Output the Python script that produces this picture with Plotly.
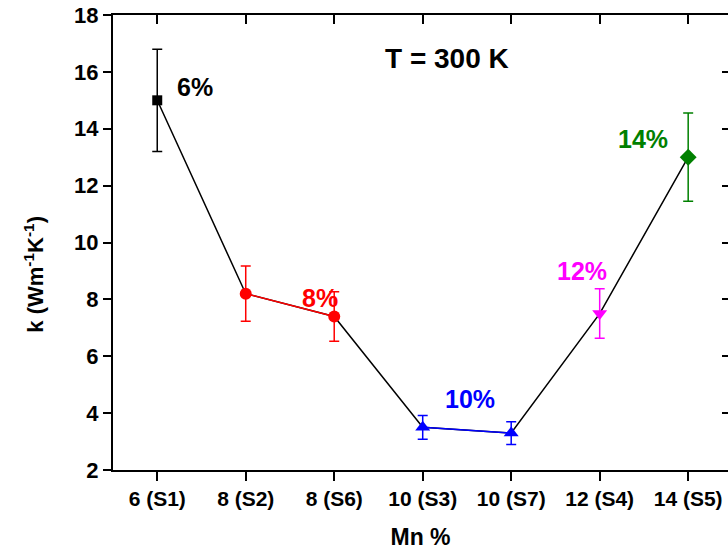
import plotly.graph_objects as go

categories = ["6 (S1)", "8 (S2)", "8 (S6)", "10 (S3)", "10 (S7)", "12 (S4)", "14 (S5)"]
k_values = [15.0, 8.2, 7.4, 3.5, 3.3, 7.5, 13.0]
k_errors = [1.8, 0.97, 0.87, 0.42, 0.40, 0.87, 1.55]

group_idx = [[0], [1, 2], [3, 4], [5], [6]]
group_colors = ["#000000", "#FF0000", "#0000FF", "#FF00FF", "#008000"]
group_symbols = ["square", "circle", "triangle-up", "triangle-down", "diamond"]
group_sizes = [10, 12, 13, 13, 13]
group_labels = ["6%", "8%", "10%", "12%", "14%"]
label_pos = [(0.43, 15.47), (1.84, 8.06), (3.53, 4.48), (4.80, 9.01), (5.49, 13.65)]

y_ticks = [2, 4, 6, 8, 10, 12, 14, 16, 18]

FONT = "Liberation Sans, Arial, sans-serif"

fig = go.Figure()

# black connecting line through all points
fig.add_trace(go.Scatter(x=categories, y=k_values, mode="lines",
                         line=dict(color="black", width=1.5), showlegend=False,
                         hoverinfo="skip"))

for idx, col, sym, sz in zip(group_idx, group_colors, group_symbols, group_sizes):
    xs = [categories[i] for i in idx]
    ys = [k_values[i] for i in idx]
    es = [k_errors[i] for i in idx]
    fig.add_trace(go.Scatter(
        x=xs, y=ys, mode="lines+markers" if len(idx) > 1 else "markers",
        line=dict(color=col, width=1.5),
        marker=dict(symbol=sym, size=sz, color=col, line=dict(width=0)),
        error_y=dict(type="data", array=es, visible=True, color=col,
                     thickness=1.5, width=5),
        showlegend=False))

for lab, col, (lx, ly) in zip(group_labels, group_colors, label_pos):
    fig.add_annotation(x=lx, y=ly, xref="x", yref="y", text="<b>" + lab + "</b>",
                       showarrow=False,
                       font=dict(family=FONT, size=25, color=col))

fig.add_annotation(x=3.27, y=16.48, xref="x", yref="y", text="<b>T = 300 K</b>",
                   showarrow=False,
                   font=dict(family=FONT, size=28, color="black"))

# y-axis title
fig.add_annotation(x=-0.128, y=0.43, xref="paper", yref="paper",
                   text="k (Wm<sup>-1</sup>K<sup>-1</sup>)", textangle=-90,
                   showarrow=False, xanchor="center", yanchor="middle",
                   font=dict(family=FONT, size=22, color="black", weight="bold"))

fig.update_layout(
    width=728, height=559,
    margin=dict(l=113, r=0, t=15, b=89),
    plot_bgcolor="white", paper_bgcolor="white",
    font=dict(family=FONT, color="black"),
    xaxis=dict(
        type="category", range=[-0.5, 6.45], automargin=False,
        showline=True, linecolor="black", linewidth=2,
        ticks="outside", ticklen=9, tickwidth=2, tickcolor="black",
        tickfont=dict(family=FONT, size=21, weight="bold"),
        title=dict(text="<b>Mn %</b>", font=dict(family=FONT, size=23),
                   standoff=20),
        showgrid=False, zeroline=False),
    yaxis=dict(
        range=[2, 18], tickvals=y_ticks, automargin=False,
        showline=True, linecolor="black", linewidth=2,
        ticks="outside", ticklen=8, tickwidth=2, tickcolor="black",
        tickfont=dict(family=FONT, size=22, weight="bold"),
        showgrid=False, zeroline=False),
    xaxis2=dict(
        overlaying="x", side="top", matches="x", type="category",
        range=[-0.5, 6.45], showline=True, linecolor="black", linewidth=2,
        ticks="inside", ticklen=9, tickwidth=2, tickcolor="black", automargin=False,
        showticklabels=False, showgrid=False, zeroline=False),
    yaxis2=dict(
        overlaying="y", side="right", range=[2, 18], tickvals=y_ticks,
        showline=False, ticks="inside", ticklen=6, tickwidth=2, automargin=False,
        tickcolor="black", showticklabels=False, showgrid=False, zeroline=False),
)

# invisible trace to activate the mirrored axes
fig.add_trace(go.Scatter(x=categories, y=k_values, xaxis="x2", yaxis="y2",
                         mode="markers", marker=dict(opacity=0), showlegend=False,
                         hoverinfo="skip"))

fig.write_html("out.html", config={"displayModeBar": False},
               post_script="document.body.style.margin='0';document.body.style.overflow='hidden';")
